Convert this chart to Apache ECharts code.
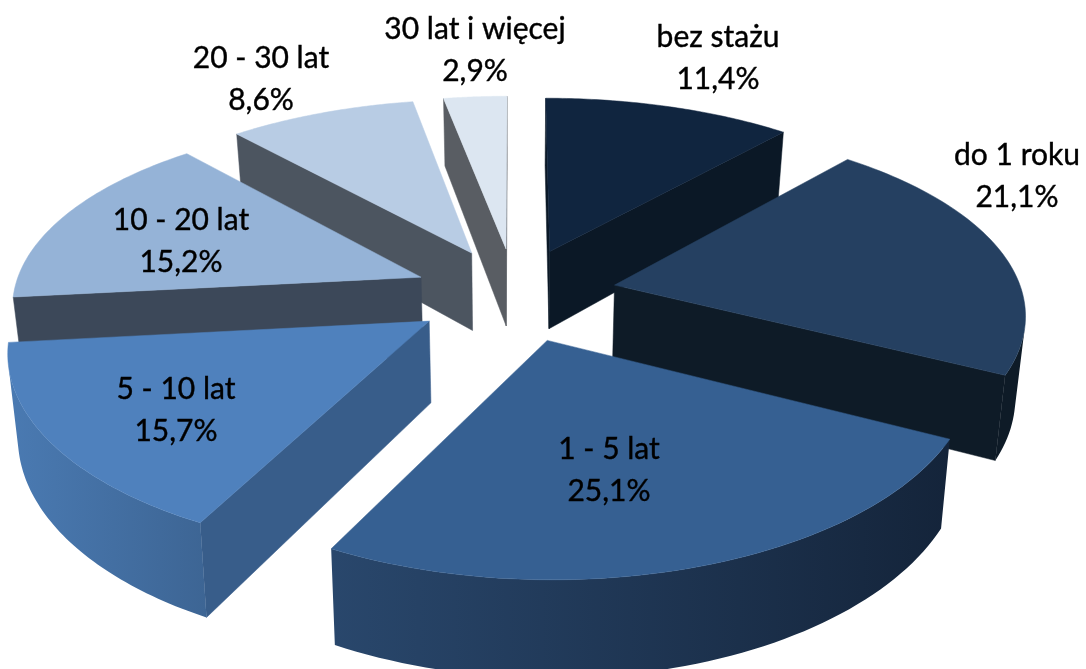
<!DOCTYPE html>
<html>
<head>
<meta charset="utf-8">
<title>Staż pracy</title>
<script src="https://cdn.jsdelivr.net/npm/echarts@6/dist/echarts.min.js"></script>
<style>
  html, body { margin: 0; padding: 0; background: #fff; }
  #chart { width: 1086px; height: 669px; }
</style>
</head>
<body>
<div id="chart"></div>
<script>
// dane
const categories = ['bez stażu', 'do 1 roku', '1 - 5 lat', '5 - 10 lat', '10 - 20 lat', '20 - 30 lat', '30 lat i więcej'];
const shares = [11.4, 21.1, 25.1, 15.7, 15.2, 8.6, 2.9];

// kolory: wierzch, przekrój, ściana (lewa, prawa)
const topColors = ['#10253f', '#254061', '#366092', '#4f81bd', '#95b3d7', '#b8cce4', '#dce6f1'];
const cutColors = ['#0b1826', '#0e1b27', '#14243a', '#385d8a', '#3c4859', '#4c5560', '#595d63'];
const wallLeft = ['#0b1826', '#0e1b27', '#29476c', '#4a7ab2', '#3c4859', '#4c5560', '#595d63'];
const wallRight = ['#0b1826', '#0e1b27', '#14243a', '#3d6594', '#3c4859', '#4c5560', '#595d63'];

// środki etykiet na obrazku
const labelPos = [[718, 58], [1017, 176], [609, 470], [176, 410], [181, 241], [261, 79], [475, 50]];

// rzut perspektywiczny kołowego 3D
const cx = 515, cy = 294, ax = 408, az = 188, perspX = 0.133, perspY = 0.15, depth = 80, shrink = 0.98;
const explode = 0.25;
const total = shares.reduce((a, b) => a + b, 0);

function project(x, z) {
  const s = 1 / (1 - perspY * z);
  return [cx + ax * x / (1 - perspX * z), cy + az * z * s, s];
}
function lower(x, z) {
  const p = project(x, z);
  return [cx + (p[0] - cx) * shrink, p[1] + depth * p[2]];
}
function area(pts) {
  let a = 0;
  for (let i = 0; i < pts.length; i++) {
    const p = pts[i], q = pts[(i + 1) % pts.length];
    a += p[0] * q[1] - q[0] * p[1];
  }
  return a / 2;
}

function renderSlice(params, api) {
  const i = params.dataIndex;
  let before = 0;
  for (let k = 0; k < i; k++) before += shares[k];
  const a0 = before / total * Math.PI * 2;
  const a1 = (before + api.value(0)) / total * Math.PI * 2;
  const mid = (a0 + a1) / 2;
  const ex = explode * Math.sin(mid), ez = -explode * Math.cos(mid);
  const z2 = 200 + Math.round(-Math.cos(mid) * 100);

  const steps = 60;
  const rim = [];
  for (let k = 0; k <= steps; k++) {
    const t = a0 + (a1 - a0) * k / steps;
    rim.push([ex + Math.sin(t), ez - Math.cos(t)]);
  }
  const top = [project(ex, ez).slice(0, 2)].concat(rim.map(w => project(w[0], w[1]).slice(0, 2)));
  const children = [];

  // przekroje
  [[rim[0], [ex, ez], cutColors[i]], [[ex, ez], rim[steps], cutColors[i]]].forEach(function (c) {
    const pts = [project(c[0][0], c[0][1]).slice(0, 2), project(c[1][0], c[1][1]).slice(0, 2),
      lower(c[1][0], c[1][1]), lower(c[0][0], c[0][1])];
    if (area(pts) > 0) {
      children.push({ type: 'polygon', shape: { points: pts }, z2: z2,
        style: { fill: c[2], stroke: c[2], lineWidth: 0.5 } });
    }
  });

  // ściana zewnętrzna, tylko widoczna część
  const upper = [], bottom = [];
  for (let k = 0; k < steps; k++) {
    const p = project(rim[k][0], rim[k][1]).slice(0, 2), q = project(rim[k + 1][0], rim[k + 1][1]).slice(0, 2);
    const lp = lower(rim[k][0], rim[k][1]), lq = lower(rim[k + 1][0], rim[k + 1][1]);
    if (area([p, q, lq, lp]) < 0) {
      if (!upper.length) { upper.push(p); bottom.push(lp); }
      upper.push(q); bottom.push(lq);
    }
  }
  if (upper.length) {
    const pts = upper.concat(bottom.reverse());
    const xs = pts.map(p => p[0]);
    const fill = new echarts.graphic.LinearGradient(Math.min.apply(null, xs), 0, Math.max.apply(null, xs), 0, [
      { offset: 0, color: wallLeft[i] }, { offset: 1, color: wallRight[i] }
    ], true);
    children.push({ type: 'polygon', shape: { points: pts }, z2: z2 + 1,
      style: { fill: fill } });
  }

  // wierzch
  children.push({ type: 'polygon', shape: { points: top }, z2: z2 + 2,
    style: { fill: topColors[i], stroke: topColors[i], lineWidth: 0.5 } });

  // etykieta
  children.push({ type: 'text', z2: 500,
    style: {
      x: labelPos[i][0], y: labelPos[i][1],
      text: categories[i] + '\n' + String(api.value(0).toFixed(1)).replace('.', ',') + '%',
      fill: '#000', stroke: '#000', lineWidth: 0.4, font: '30px Lato', lineHeight: 42,
      align: 'center', verticalAlign: 'middle'
    } });

  return { type: 'group', children: children };
}

const chart = echarts.init(document.getElementById('chart'), null, { renderer: 'canvas' });
chart.setOption({
  animation: false,
  backgroundColor: '#ffffff',
  series: [{
    type: 'custom',
    coordinateSystem: 'none',
    renderItem: renderSlice,
    silent: true,
    data: shares
  }]
});
</script>
</body>
</html>
